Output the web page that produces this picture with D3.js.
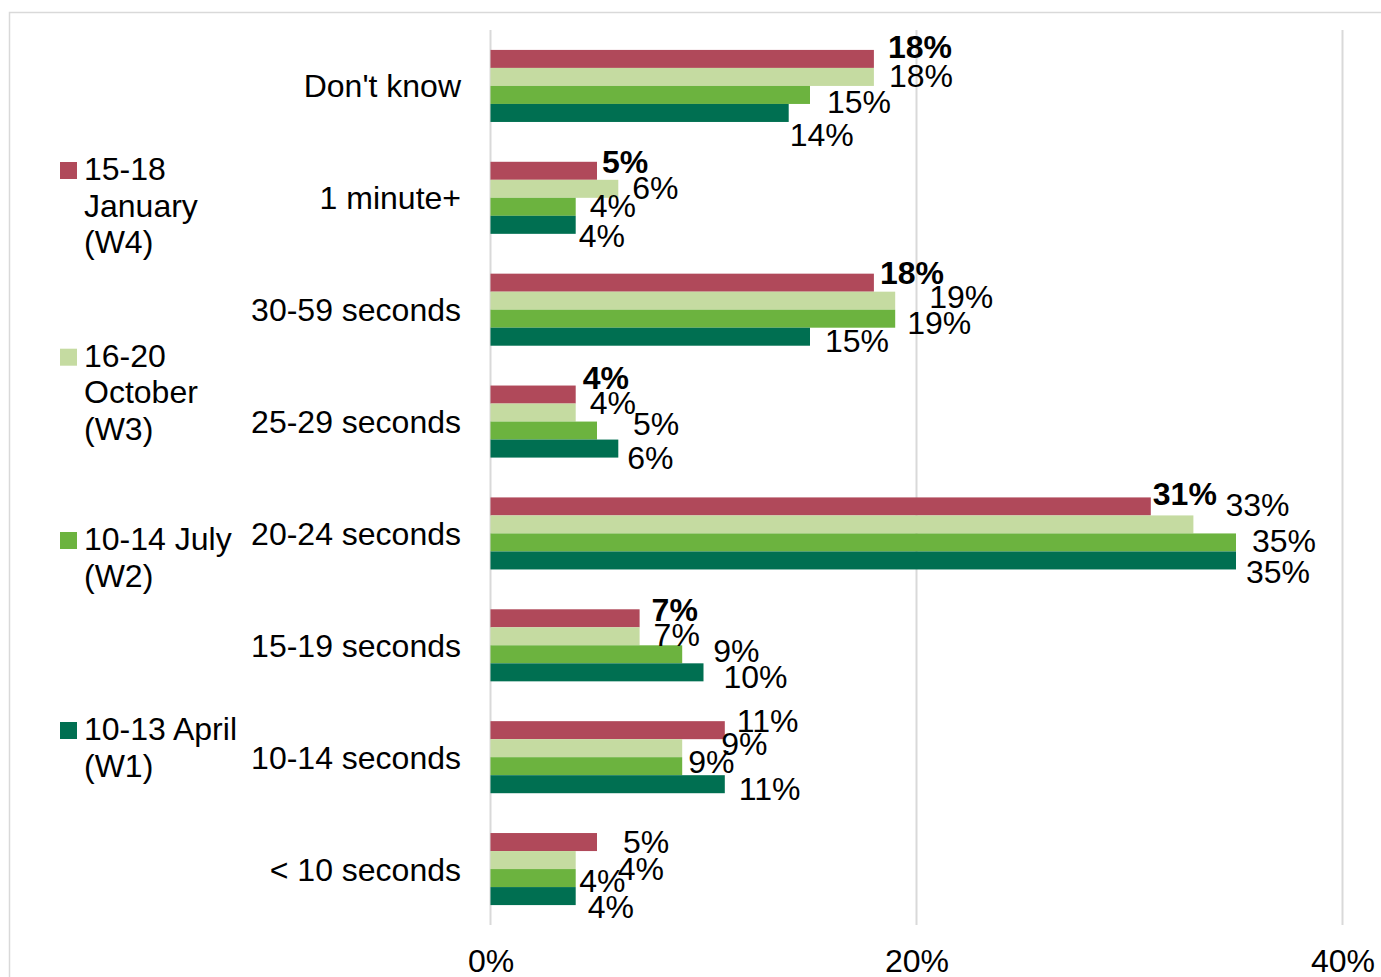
<!DOCTYPE html>
<html>
<head>
<meta charset="utf-8">
<script src="https://cdn.jsdelivr.net/npm/d3@7"></script>
<style>
  html, body { margin: 0; padding: 0; background: #ffffff; }
  svg { display: block; font-family: "Liberation Sans", Arial, sans-serif; }
</style>
</head>
<body>
<svg id="chart" width="1381" height="977"></svg>
<script>
// Response-time categories (top to bottom)
const categories = ["Don't know", "1 minute+", "30-59 seconds", "25-29 seconds",
  "20-24 seconds", "15-19 seconds", "10-14 seconds", "< 10 seconds"];

// Survey waves, in the order drawn inside each group
const seriesNames = ["15-18 January (W4)", "16-20 October (W3)", "10-14 July (W2)", "10-13 April (W1)"];

// Percentages per wave, one value per category
const valuesW4 = [18, 5, 18, 4, 31, 7, 11, 5];
const valuesW3 = [18, 6, 19, 4, 33, 7, 9, 4];
const valuesW2 = [15, 4, 19, 5, 35, 9, 9, 4];
const valuesW1 = [14, 4, 15, 6, 35, 10, 11, 4];

// Latest-wave labels shown in bold
const boldW4 = [true, true, true, true, true, true, false, false];

// Axis ticks (percent)
const xTicks = [0, 20, 40];

const seriesValues = [valuesW4, valuesW3, valuesW2, valuesW1];
const colors = ["#b0495a", "#c5dba1", "#6cb33f", "#006f51"];

// Hand-placed label nudges: [dx from bar end, dy from bar centre to baseline]
const labelNudge = [
  [[14, -1], [15, 10], [17, 18], [1, 33]],
  [[5, 2], [14, 10], [14, 10], [3, 22]],
  [[6, 1], [34, 7], [12, 15], [15, 15]],
  [[7, -6], [14, 1.5], [36, 4.5], [9, 20]],
  [[2, -1.5], [32, -8], [16, 10], [10, 23]],
  [[12, 2.5], [14, 10], [31, 7.5], [20, 16]],
  [[12, 1.5], [39, 7], [6, 7], [14, 16]],
  [[26, 11], [42, 20], [3.5, 14], [12, 22]]
];

const FS = 32;
const svg = d3.select("#chart");

// Chart frame
svg.append("rect")
  .attr("x", 9.5).attr("y", 12.5)
  .attr("width", 1400).attr("height", 1000)
  .attr("fill", "#ffffff")
  .attr("stroke", "#d9d9d9").attr("stroke-width", 1.5);

const plot = { left: 490.5, right: 1342.5, top: 30, bottom: 925 };

const x = d3.scaleLinear().domain([0, 40]).range([plot.left, plot.right]);
const y = d3.scaleBand().domain(categories)
  .range([plot.top, plot.bottom])
  .paddingInner(0.356).paddingOuter(0.178);
const ySub = d3.scaleBand().domain(d3.range(seriesNames.length))
  .range([0, y.bandwidth()]);

// Gridlines (the 0% one doubles as the axis line)
svg.append("g").selectAll("line")
  .data(xTicks)
  .join("line")
  .attr("x1", d => x(d)).attr("x2", d => x(d))
  .attr("y1", plot.top).attr("y2", plot.bottom)
  .attr("stroke", "#d9d9d9").attr("stroke-width", 2);

// X axis tick labels
const xAxis = d3.axisBottom(x).tickValues(xTicks).tickSize(0).tickPadding(0)
  .tickFormat(d => d + "%");
const gx = svg.append("g").attr("transform", `translate(0,${plot.bottom})`).call(xAxis);
gx.select(".domain").remove();
gx.selectAll("text")
  .attr("dy", null).attr("y", 47)
  .attr("fill", "#000").attr("font-size", FS)
  .attr("font-family", "Liberation Sans, Arial, sans-serif");

// Category labels
svg.append("g").selectAll("text")
  .data(categories)
  .join("text")
  .attr("x", 461)
  .attr("y", d => y(d) + y.bandwidth() / 2 + 11.5)
  .attr("text-anchor", "end")
  .attr("font-size", FS)
  .attr("fill", "#000")
  .text(d => d);

// Bars
const rows = [];
categories.forEach((c, ci) => {
  seriesValues.forEach((vals, si) => {
    rows.push({ cat: c, ci, si, v: vals[ci] });
  });
});

svg.append("g").selectAll("rect")
  .data(rows)
  .join("rect")
  .attr("x", x(0))
  .attr("y", d => y(d.cat) + ySub(d.si))
  .attr("width", d => x(d.v) - x(0))
  .attr("height", ySub.bandwidth())
  .attr("fill", d => colors[d.si]);

// Value labels
svg.append("g").selectAll("text")
  .data(rows)
  .join("text")
  .attr("x", d => x(d.v) + labelNudge[d.ci][d.si][0])
  .attr("y", d => y(d.cat) + ySub(d.si) + ySub.bandwidth() / 2 + labelNudge[d.ci][d.si][1])
  .attr("font-size", FS)
  .attr("font-weight", d => (d.si === 0 && boldW4[d.ci]) ? "bold" : "normal")
  .attr("fill", "#000")
  .text(d => d.v + "%");

// Legend
const legendTops = [180, 366.7, 550, 740];
const lineH = 36.7;
const legend = svg.append("g");
seriesNames.forEach((name, i) => {
  const g = legend.append("g");
  g.append("rect")
    .attr("x", 60).attr("y", legendTops[i] - 18)
    .attr("width", 17).attr("height", 17)
    .attr("fill", colors[i]);
  const t = g.append("text")
    .attr("font-size", FS).attr("fill", "#000");
  // wrap words into lines no wider than the legend column
  const words = name.split(" ");
  const lines = [];
  let cur = "";
  const probe = svg.append("text").attr("font-size", FS).attr("visibility", "hidden");
  words.forEach(w => {
    const trial = cur ? cur + " " + w : w;
    probe.text(trial);
    if (cur && probe.node().getComputedTextLength() > 160) {
      lines.push(cur);
      cur = w;
    } else {
      cur = trial;
    }
  });
  if (cur) lines.push(cur);
  probe.remove();
  lines.forEach((ln, k) => {
    t.append("tspan").attr("x", 84).attr("y", legendTops[i] + k * lineH).text(ln);
  });
});
</script>
</body>
</html>
